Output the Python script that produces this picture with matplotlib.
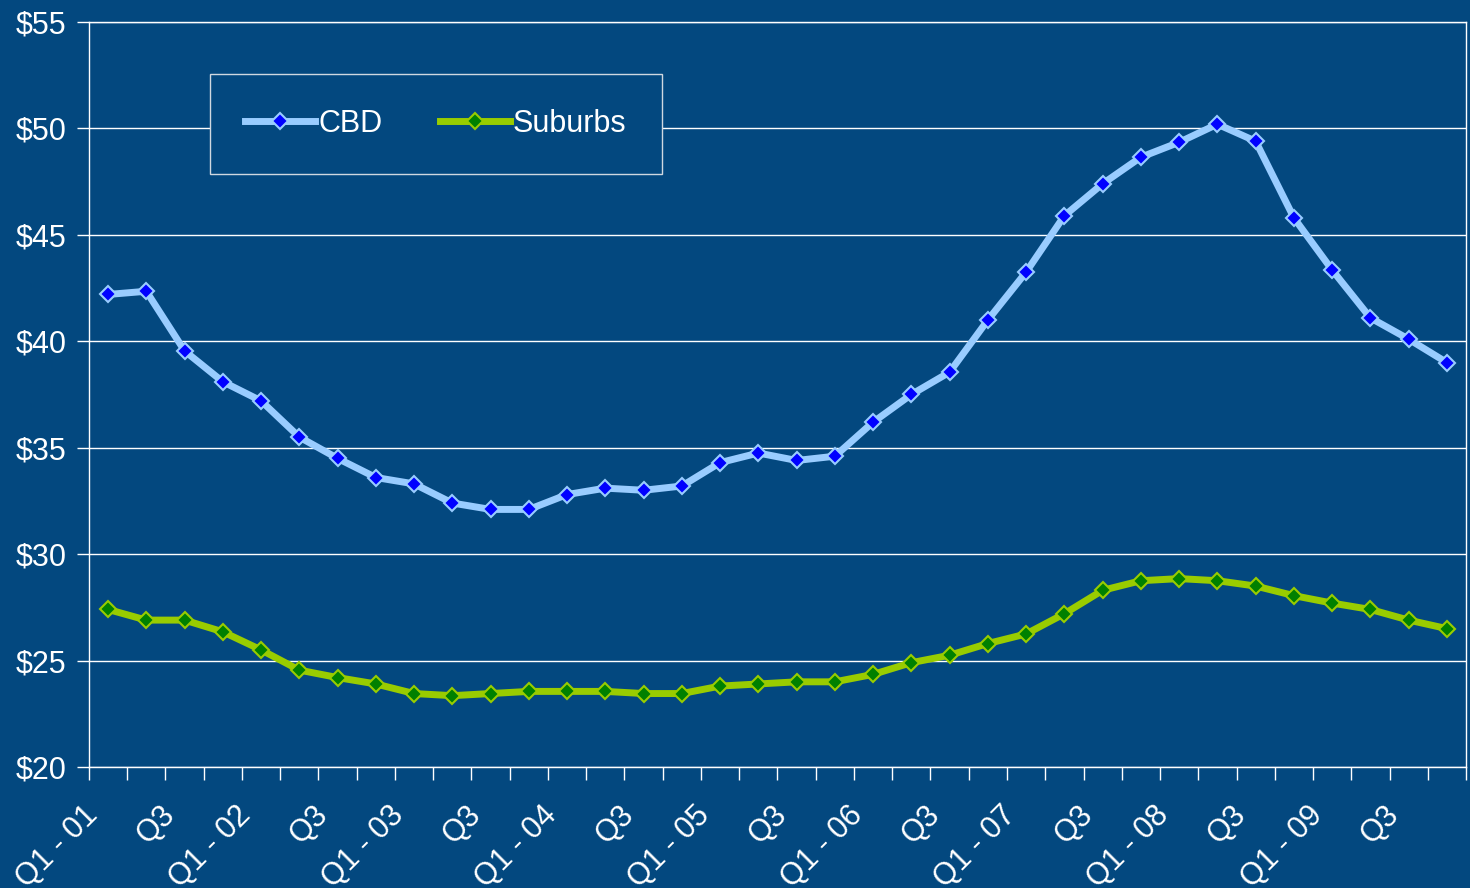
import matplotlib.pyplot as plt
import numpy as np

plt.rcParams["font.family"] = ["Liberation Sans", "DejaVu Sans"]

# quarterly averages, Q1 2001 .. Q4 2009
cbd = [42.2, 42.35, 39.55, 38.1, 37.2, 35.5, 34.5, 33.6, 33.3, 32.4, 32.1, 32.1,
       32.8, 33.1, 33.0, 33.2, 34.3, 34.75, 34.4, 34.6, 36.2, 37.5, 38.55, 41.0,
       43.25, 45.9, 47.4, 48.65, 49.35, 50.2, 49.4, 45.8, 43.35, 41.1, 40.1, 39.0]
suburbs = [27.4, 26.9, 26.9, 26.35, 25.5, 24.55, 24.2, 23.9, 23.45, 23.35, 23.45, 23.55,
           23.55, 23.55, 23.45, 23.45, 23.8, 23.9, 24.0, 24.0, 24.35, 24.9, 25.25, 25.8,
           26.25, 27.2, 28.3, 28.75, 28.85, 28.75, 28.5, 28.05, 27.7, 27.4, 26.9, 26.5]
tick_labels = ["Q1 - 01", "Q3", "Q1 - 02", "Q3", "Q1 - 03", "Q3", "Q1 - 04", "Q3",
               "Q1 - 05", "Q3", "Q1 - 06", "Q3", "Q1 - 07", "Q3", "Q1 - 08", "Q3",
               "Q1 - 09", "Q3"]

bg = "#03487F"
x = np.arange(len(cbd))

fig = plt.figure(figsize=(14.7, 8.88), dpi=100, facecolor=bg)
ax = fig.add_axes([0.0605, 0.1363, 0.9368, 0.8389], facecolor=bg)

ax.plot(x, cbd, color="#99CCFF", lw=5, marker="D", ms=8, mfc="#0000FF",
        mec="#99CCFF", mew=1.5, label="CBD", zorder=3)
ax.plot(x, suburbs, color="#99CC00", lw=5, marker="D", ms=8, mfc="#008000",
        mec="#99CC00", mew=1.5, label="Suburbs", zorder=3)

ax.set_yticks(range(20, 56, 5))
ax.set_yticklabels([f"${v}" for v in range(20, 56, 5)])
ax.yaxis.grid(True, color="white", lw=1)
ax.set_axisbelow(True)

# category labels every other quarter, rotated and nudged left like the original
ax.set_xticks(np.arange(-0.5, len(cbd)))
ax.set_xticklabels([])
for xi, lbl in zip(x[::2], tick_labels):
    ax.annotate(lbl, xy=(xi, 0), xycoords=ax.get_xaxis_transform(),
                xytext=(-25, -33), textcoords="offset pixels", rotation=45,
                ha="right", va="top", rotation_mode="anchor", fontsize=22,
                color="white", annotation_clip=False)
ax.set_xlim(-0.5, len(cbd) - 0.5)
ax.set_ylim(20, 55)
ax.tick_params(axis="x", length=9, color="white", width=1)
ax.tick_params(axis="y", length=9, color="white", width=1, pad=7)
ax.tick_params(labelsize=22, labelcolor="white")

for s in ax.spines.values():
    s.set_color("white")
    s.set_linewidth(1)

leg = ax.legend(ncol=2, loc="center", bbox_to_anchor=(0.0879, 0.797, 0.328, 0.132),
                mode="expand", borderaxespad=0, fontsize=22, frameon=True,
                fancybox=False, handlelength=2.3, handletextpad=0.1,
                borderpad=1.15, columnspacing=2.85)
leg.get_frame().set_facecolor(bg)
leg.get_frame().set_edgecolor("#D0D8E0")
leg.get_frame().set_alpha(1)
for t in leg.get_texts():
    t.set_color("white")

fig.savefig("out.png", dpi=100, facecolor=bg)
